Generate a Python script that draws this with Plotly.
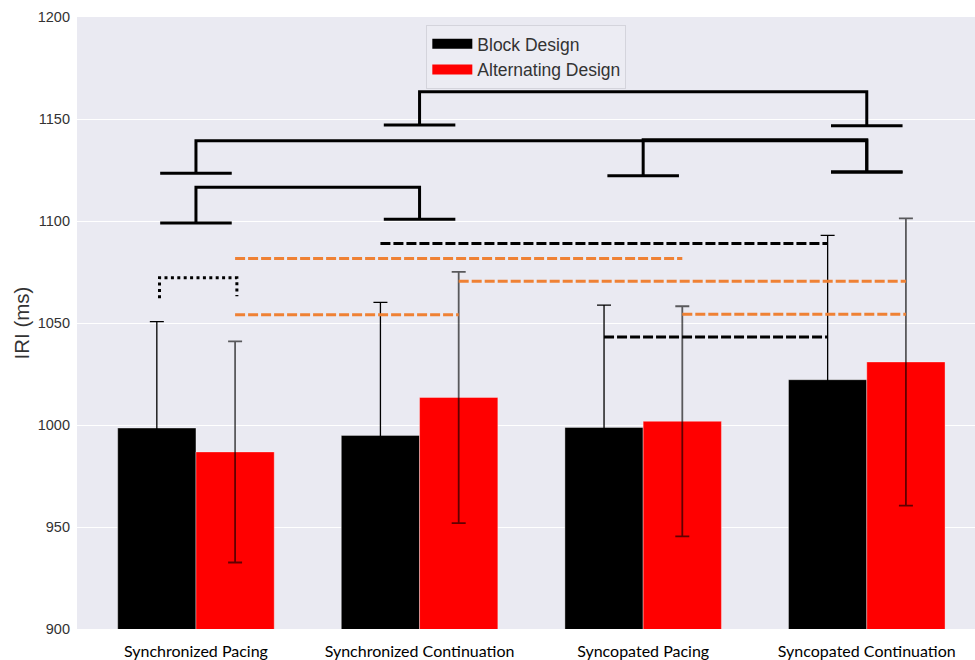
import plotly.graph_objects as go

# ---------------- data ----------------
categories = ["Synchronized Pacing", "Synchronized Continuation",
              "Syncopated Pacing", "Syncopated Continuation"]
series_names = ["Block Design", "Alternating Design"]
block_mean = [998.5, 994.9, 998.8, 1022.2]
block_err = [52.2, 65.2, 60.0, 70.8]
alt_mean = [986.8, 1013.5, 1001.8, 1030.9]
alt_err = [54.2, 61.6, 56.4, 70.4]
y_ticks = [900, 950, 1000, 1050, 1100, 1150, 1200]

# significance brackets between condition means (category indices)
bracket_left = [1, 0, 2, 0]
bracket_right = [3, 3, 3, 1]
bracket_top = [1163.4, 1139.3, 1139.8, 1116.6]
bracket_left_cap = [1147.0, 1123.4, 1122.2, 1099.0]
bracket_right_cap = [1146.7, 1124.0, 1124.0, 1100.8]

# dashed comparisons within Block Design (black) bars
block_cmp_from = [1, 2]
block_cmp_to = [3, 3]
block_cmp_y = [1089.0, 1043.1]

# dashed comparisons within Alternating Design (red) bars
alt_cmp_from = [0, 0, 1, 2]
alt_cmp_to = [2, 1, 3, 3]
alt_cmp_y = [1081.6, 1054.0, 1070.5, 1054.3]

# dotted comparison: Block vs Alternating in Synchronized Pacing
dot_cat = 0
dot_top = 1072.2
dot_left_end = 1062.1
dot_right_end = 1063.1

# ---------------- styling ----------------
BAR_W = 0.35
OFF = BAR_W / 2
CAP = 0.16
ORANGE = "#EF8134"
x_idx = list(range(len(categories)))

fig = go.Figure()

fig.add_trace(go.Bar(
    x=x_idx, y=block_mean, name=series_names[0], showlegend=False,
    marker=dict(color="#000000", line=dict(color="rgba(255,255,255,0.35)", width=1)),
    error_y=dict(type="data", array=block_err, color="#000000", thickness=1.3, width=7),
))
fig.add_trace(go.Bar(
    x=x_idx, y=alt_mean, name=series_names[1], showlegend=False,
    marker=dict(color="#FF0000", line=dict(color="rgba(255,255,255,0.35)", width=1)),
    error_y=dict(type="data", array=alt_err, color="rgba(0,0,0,0.62)", thickness=1.8, width=7),
))

# legend entries (wide patches)
for nm, col in zip(series_names, ["#000000", "#FF0000"]):
    fig.add_trace(go.Scatter(x=[None], y=[None], mode="lines", name=nm,
                             line=dict(color=col, width=13), showlegend=True,
                             hoverinfo="skip"))

# solid brackets
for a, b, top, lc, rc in zip(bracket_left, bracket_right, bracket_top,
                             bracket_left_cap, bracket_right_cap):
    fig.add_trace(go.Scatter(
        x=[a - CAP, a + CAP, None, a, a, b, b, None, b - CAP, b + CAP],
        y=[lc, lc, None, lc, top, top, rc, None, rc, rc],
        mode="lines", line=dict(color="black", width=3), showlegend=False,
        hoverinfo="skip"))

# black dashed (Block design bars)
for a, b, yv in zip(block_cmp_from, block_cmp_to, block_cmp_y):
    fig.add_trace(go.Scatter(
        x=[a - OFF, b - OFF], y=[yv, yv], mode="lines",
        line=dict(color="black", width=3, dash="10px,3px"),
        showlegend=False, hoverinfo="skip"))

# orange dashed (Alternating design bars)
for a, b, yv in zip(alt_cmp_from, alt_cmp_to, alt_cmp_y):
    fig.add_trace(go.Scatter(
        x=[a + OFF, b + OFF], y=[yv, yv], mode="lines",
        line=dict(color=ORANGE, width=3, dash="10px,3px"),
        showlegend=False, hoverinfo="skip"))

# dotted bracket
fig.add_trace(go.Scatter(
    x=[dot_cat - OFF + 0.012, dot_cat - OFF + 0.012, dot_cat + OFF + 0.008, dot_cat + OFF + 0.008],
    y=[dot_left_end, dot_top, dot_top, dot_right_end], mode="lines",
    line=dict(color="black", width=3, dash="3px,3.4px"),
    showlegend=False, hoverinfo="skip"))

fig.update_layout(
    width=975, height=660,
    margin=dict(l=77, r=0, t=17, b=28),
    paper_bgcolor="white", plot_bgcolor="#EAEAF2",
    barmode="group", bargap=0.3, bargroupgap=0,
    font=dict(family="Liberation Sans, Arial, sans-serif", color="#333333"),
    legend=dict(
        x=0.389, y=0.987, xanchor="left", yanchor="top",
        bgcolor="rgba(236,236,243,0.9)", bordercolor="#D4D4DC", borderwidth=1,
        font=dict(family="Liberation Sans, Arial, sans-serif", size=17.5, color="#333333"),
        itemwidth=40, tracegroupgap=0,
    ),
    xaxis=dict(
        range=[-0.532, 3.484], tickmode="array", tickvals=x_idx, ticktext=categories,
        showgrid=False, zeroline=False, showline=False, ticks="",
        ticklabelstandoff=11,
        tickfont=dict(family="Lato, Carlito, sans-serif", size=16, color="#000000"),
    ),
    yaxis=dict(
        range=[900, 1200], tickmode="array", tickvals=y_ticks,
        showgrid=True, gridcolor="white", gridwidth=1.3, zeroline=False,
        showline=False, ticks="", ticklabelstandoff=6,
        tickfont=dict(family="Liberation Sans, Arial, sans-serif", size=14.5, color="#333333"),
        title=dict(text="IRI (ms)", font=dict(size=20.5, color="#333333"), standoff=2),
    ),
)

fig.write_html(
    "out.html",
    config={"displayModeBar": False},
    post_script="document.body.style.margin='0';document.body.style.overflow='hidden';",
)
